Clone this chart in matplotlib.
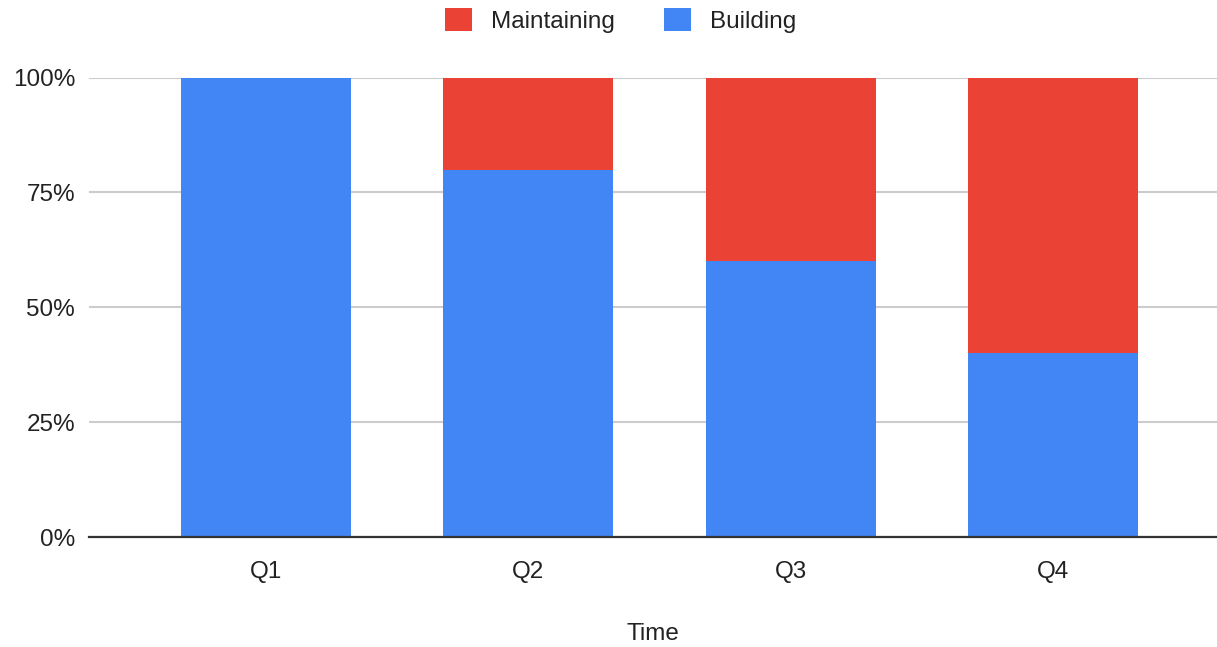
import numpy as np
import matplotlib.pyplot as plt
from matplotlib.patches import Patch
from matplotlib.ticker import FuncFormatter

plt.rcParams['font.family'] = ['Liberation Sans', 'DejaVu Sans']
plt.rcParams['font.size']   = 17.5

quarters    = ['Q1', 'Q2', 'Q3', 'Q4']
building    = [100, 80, 60, 40]
maintaining = [0, 20, 40, 60]

blue = '#4285F4'
red  = '#EA4335'

fig = plt.figure(figsize=(12.17, 6.47), dpi=100)
ax = fig.add_axes([0.0731, 0.17, 0.9269, 0.71])

x = np.arange(len(quarters))
ax.bar(x, building, width=0.648, color=blue, zorder=2)
ax.bar(x, maintaining, width=0.648, bottom=building, color=red, zorder=2)

ax.set_xlim(-0.675, 3.625)
ax.set_ylim(0, 100)
ax.set_yticks([0, 25, 50, 75, 100])
ax.yaxis.set_major_formatter(FuncFormatter(lambda v, p: '%d%%' % v))
ax.set_xticks(x)
ax.set_xticklabels(quarters)
ax.grid(axis='y', color='#cccccc', linewidth=1.5, zorder=0)
ax.set_axisbelow(True)
for s in ['top', 'right', 'left']:
    ax.spines[s].set_visible(False)
ax.spines['bottom'].set_color('#333333')
ax.spines['bottom'].set_linewidth(1.6)
ax.spines['bottom'].set_zorder(3)
ax.tick_params(axis='both', length=0, colors='#222222')
ax.tick_params(axis='y', pad=10)
ax.tick_params(axis='x', pad=17)
ax.set_xlabel('Time', labelpad=29, color='#222222')

handles = [Patch(facecolor=red, label='Maintaining'),
           Patch(facecolor=blue, label='Building')]
fig.legend(handles=handles, loc='upper center', bbox_to_anchor=(0.51, 1.022),
           ncol=2, frameon=False, handlelength=1.1, handleheight=1.1,
           handletextpad=0.8, columnspacing=2.0, labelcolor='#222222')

fig.savefig('out.png', dpi=100)
